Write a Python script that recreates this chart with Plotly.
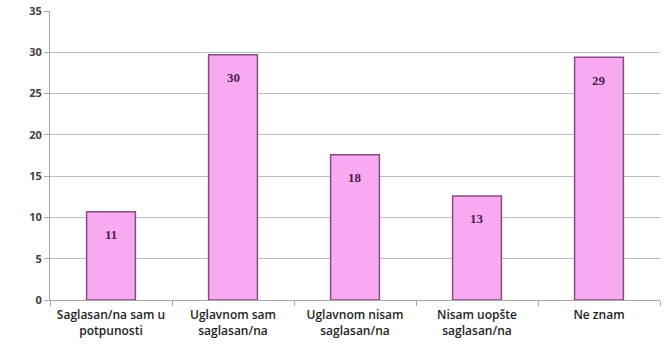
import plotly.graph_objects as go

categories = ["Saglasan/na sam u<br>potpunosti", "Uglavnom sam<br>saglasan/na",
              "Uglavnom nisam<br>saglasan/na", "Nisam uopšte<br>saglasan/na", "Ne znam"]
values = [10.7, 29.7, 17.6, 12.6, 29.4]
labels = ["11", "30", "18", "13", "29"]
y_ticks = [0, 5, 10, 15, 20, 25, 30, 35]

fig = go.Figure(go.Bar(
    x=categories, y=values,
    marker=dict(color="#F7AAF0", line=dict(color="#8A4A82", width=1.5)),
    width=0.4,
))

for cat, val, lab in zip(categories, values, labels):
    fig.add_annotation(
        x=cat, y=val, text=f"<b>{lab}</b>", showarrow=False,
        yanchor="middle", yshift=-23,
        font=dict(family="Liberation Serif", size=13, color="#4A1F4A"),
    )

fig.update_layout(
    width=669, height=346,
    margin=dict(l=50, r=9, t=11, b=46, autoexpand=False),
    paper_bgcolor="white", plot_bgcolor="white",
    showlegend=False,
    font=dict(family="Open Sans", size=12, color="#303030"),
    xaxis=dict(
        automargin=False,
        showline=True, linecolor="#A6A6A6", linewidth=1,
        ticks="outside", tickson="boundaries", ticklen=5, tickcolor="#A6A6A6",
        ticklabelstandoff=4,
        tickfont=dict(family="Open Sans", size=12, weight=600, color="#1E1E1E"),
    ),
    yaxis=dict(
        automargin=False,
        range=[0, 35], tickvals=y_ticks, showline=True, linecolor="#A6A6A6",
        gridcolor="#BCBCBC", gridwidth=1, ticks="outside", ticklen=5, tickcolor="#A6A6A6",
        tickfont=dict(family="Open Sans", size=11, weight="bold", color="#404040"),
        zeroline=False,
    ),
)

fig.write_html("out.html", config={"displayModeBar": False},
               post_script="document.body.style.margin='0';")
